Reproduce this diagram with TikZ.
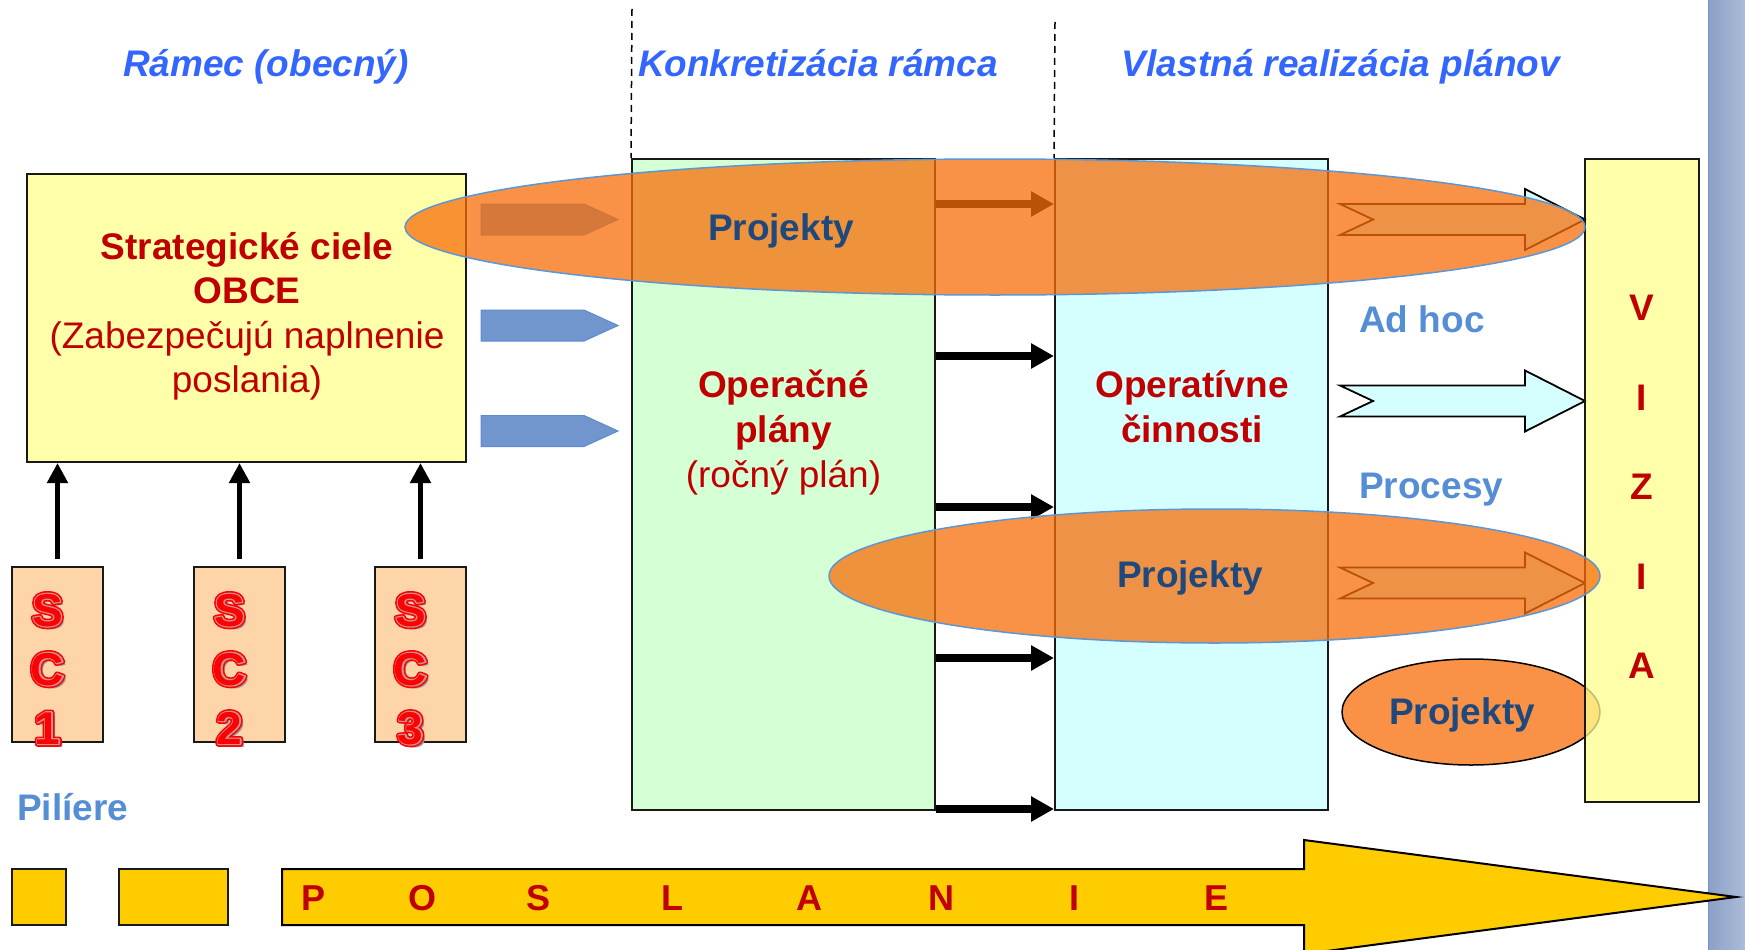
\documentclass[tikz,border=0pt]{standalone}
\usepackage{fontspec}
\setmainfont{Liberation Sans}
\usetikzlibrary{arrows.meta,shapes.geometric}
\definecolor{titleblue}{RGB}{51,102,255}
\definecolor{lblue}{RGB}{85,142,213}
\definecolor{dred}{RGB}{192,0,0}
\definecolor{navy}{RGB}{31,73,125}
\definecolor{yelbox}{RGB}{255,255,170}
\definecolor{vizbox}{RGB}{255,255,142}
\definecolor{scbox}{RGB}{253,213,168}
\definecolor{grnbox}{RGB}{213,255,213}
\definecolor{cyabox}{RGB}{213,255,255}
\definecolor{gold}{RGB}{255,204,0}
\definecolor{ellor}{RGB}{247,110,10}
\definecolor{ellline}{RGB}{91,150,213}
\definecolor{pentblue}{RGB}{112,150,205}
\definecolor{pentline}{RGB}{91,139,208}
\definecolor{stripeA}{RGB}{138,160,196}
\definecolor{stripeB}{RGB}{172,188,218}
\definecolor{stripeE}{RGB}{110,148,210}
\definecolor{scgrey}{RGB}{200,150,150}
\newcommand{\myfs}{\fontsize{37}{44}\selectfont}
\newcommand{\myscfs}{\fontsize{46}{46}\selectfont}
\newcommand{\strk}[2]{\special{pdf:literal direct 2 Tr #1 w 1 j}#2\special{pdf:literal direct 0 Tr 1 w}}
\begin{document}
\begin{tikzpicture}[x=1pt,y=-1pt,
  box/.style={draw=black!90,line width=2pt,rectangle,inner sep=0pt},
  tstrong/.style={font=\myfs\bfseries,text=dred,inner sep=0pt,anchor=base},
  tnorm/.style={font=\myfs,text=dred,inner sep=0pt,anchor=base},
  ttitle/.style={font=\myfs\bfseries\itshape,text=titleblue,inner sep=0pt,anchor=base},
  lbl/.style={font=\myfs\bfseries,text=lblue,inner sep=0pt,anchor=base west},
  projt/.style={font=\myfs\bfseries,text=navy,inner sep=0pt,anchor=base},
  sclet/.style={font=\myscfs\bfseries,text=red,inner sep=0pt,anchor=base},
  scshad/.style={font=\myscfs\bfseries,text=black!40,inner sep=0pt,anchor=base},
  harr/.style={line width=8pt,-{Triangle[length=23pt,width=24pt]}},
  varr/.style={line width=5pt,-{Triangle[length=20pt,width=20pt]},shorten <=7pt},
  ell/.style={ellipse,inner sep=0pt,fill=ellor,fill opacity=0.75,draw=ellline,line width=1.5pt},
  chevst/.style={fill=cyabox,draw=black,line width=1.8pt,line join=miter},
  pent/.style={fill=pentblue,draw=pentline,line width=1pt},
  dashln/.style={draw=black,line width=1.5pt,dash pattern=on 7pt off 5pt},
  goldst/.style={fill=gold,draw=black,line width=2pt},
  chevpic/.pic={\draw[chevst] (0,-15.5)--(185,-15.5)--(185,-30.5)--(245,0)--(185,30.5)--(185,15.5)--(0,15.5)--(33,0)--cycle;}
]
\useasboundingbox (0,0) rectangle (1745,950);

% right stripe
\shade[left color=stripeA,right color=stripeB] (1708,0) rectangle (1745,950);
\draw[stripeE,line width=1.5pt] (1708.5,0) -- (1708.5,950);

% boxes
\node[box,fill=yelbox,minimum width=439pt,minimum height=288pt] (strat) at (246.5,318) {};
\node[box,fill=scbox,minimum width=91pt,minimum height=175pt] (sc1) at (57.5,654.5) {};
\node[box,fill=scbox,minimum width=91pt,minimum height=175pt] (sc2) at (239.5,654.5) {};
\node[box,fill=scbox,minimum width=91pt,minimum height=175pt] (sc3) at (420.5,654.5) {};
\node[box,fill=grnbox,minimum width=303pt,minimum height=651pt] (green) at (783.5,484.5) {};
\node[box,fill=cyabox,minimum width=273pt,minimum height=651pt] (cyan) at (1191.5,484.5) {};

% dashed separators
\coordinate (d1) at (632,9);
\coordinate (d2) at (1055,22);
\draw[dashln] (d1) -- (green.north west);
\draw[dashln] (d2) -- (cyan.north west);

% SC letters: shadow, thick red outline, grey ring, red core
\foreach \b/\x/\n in {a/47.5/1,b/229.5/2,c/410.5/3}{
  \foreach \L/\y in {S/626,C/685,\n/744}{
    \node[scshad] (\b\L h) at (\x+3.5,\y+3.5) {\L};
    \node[sclet] (\b\L o) at (\x,\y) {\strk{5.6}{\L}};
    \node[sclet,text=scgrey] (\b\L g) at (\x,\y) {\strk{2.4}{\L}};
    \node[sclet] (\b\L c) at (\x,\y) {\L};
  }
}

% up arrows
\draw[varr] (sc1.north) -- (sc1.north |- strat.south);
\draw[varr] (sc2.north) -- (sc2.north |- strat.south);
\draw[varr] (sc3.north) -- (sc3.north |- strat.south);

% black arrows between green and cyan
\foreach \i/\y in {1/204,2/356,3/507,4/658,5/809}{
  \coordinate (r\i) at (1000,\y);
  \draw[harr] (green.east |- r\i) -- (cyan.west |- r\i);
}

% blue pentagons
\foreach \y in {219.5,325.5,431}{
  \draw[pent] (481,\y-15.5) -- (584,\y-15.5) -- (618,\y) -- (584,\y+15.5) -- (481,\y+15.5) -- cycle;
}

% chevron arrows
\pic at (1340,219.5) {chevpic};
\pic at (1340,401) {chevpic};
\pic at (1340,583) {chevpic};

% small ellipse then VIZIA box
\node[ell,draw=black,minimum width=258pt,minimum height=106pt] (e3) at (1471,712) {};
\node[box,fill=vizbox,fill opacity=0.75,draw opacity=1,minimum width=114pt,minimum height=643pt] (vizia) at (1642,480.5) {};

% big ellipses
\node[ell,minimum width=1180pt,minimum height=136pt] (e1) at (995,227) {};
\node[ell,minimum width=771pt,minimum height=134pt] (e2) at (1214.5,576) {};

% Projekty labels
\node[projt] (p1) at (781,240) {Projekty};
\node[projt] (p2) at (1190,587) {Projekty};
\node[projt] (p3) at (1462,724) {Projekty};

% VIZIA letters
\node[tstrong] (vV) at (1642,320) {V};
\node[tstrong] (vI1) at (1642,410) {I};
\node[tstrong] (vZ) at (1642,499) {Z};
\node[tstrong] (vI2) at (1642,589) {I};
\node[tstrong] (vA) at (1642,678) {A};

% strategic text
\node[tstrong] (st1) at (247,259) {Strategické ciele};
\node[tstrong] (st2) at (247,303) {OBCE};
\node[tnorm] (st3) at (247,348) {(Zabezpečujú naplnenie};
\node[tnorm] (st4) at (247,392) {poslania)};

% green text
\node[tstrong] (g1) at (783.5,397) {Operačné};
\node[tstrong] (g2) at (783.5,442) {plány};
\node[tnorm] (g3) at (783.5,487) {(ročný plán)};

% cyan text
\node[tstrong] (c1) at (1192,397) {Operatívne};
\node[tstrong] (c2) at (1192,442) {činnosti};

% side labels
\node[lbl] (adhoc) at (1359,332) {Ad hoc};
\node[lbl] (proc) at (1359,498) {Procesy};
\node[lbl] (pil) at (17,820) {Pilíere};

% titles
\node[ttitle] (t1) at (266,77) {Rámec (obecný)};
\node[ttitle] (t2) at (818,77) {Konkretizácia rámca};
\node[ttitle] (t3) at (1341,77) {Vlastná realizácia plánov};

% bottom row
\node[box,fill=gold,minimum width=54pt,minimum height=56pt] (sq1) at (39,897) {};
\node[box,fill=gold,minimum width=109pt,minimum height=56pt] (sq2) at (173.5,897) {};
\draw[goldst] (282,869) -- (1304,869) -- (1304,840) -- (1736,897) -- (1304,954) -- (1304,925) -- (282,925) -- cycle;
\foreach \l/\x in {P/314,O/422,S/538,L/672,A/809,N/941,I/1074,E/1216}{
  \node[tstrong,font=\fontsize{36}{40}\selectfont\bfseries] (pos\l\x) at (\x,910) {\l};
}
\end{tikzpicture}
\end{document}
